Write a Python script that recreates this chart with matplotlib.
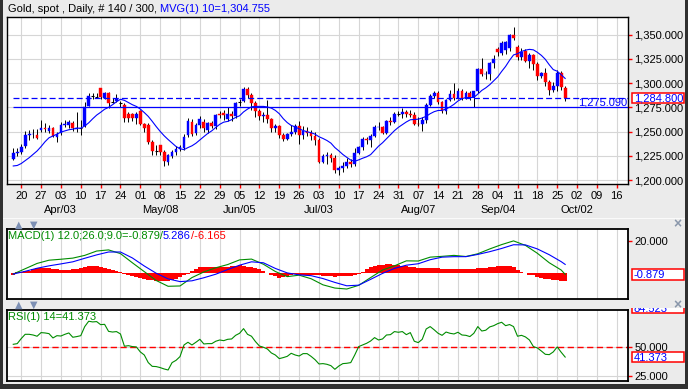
import numpy as np
import pandas as pd
import matplotlib
matplotlib.use("Agg")
import matplotlib.pyplot as plt
import matplotlib.transforms as mtransforms
from matplotlib.patches import Rectangle
from matplotlib.text import Annotation

plt.rcParams['font.family'] = ['Liberation Sans', 'DejaVu Sans']
plt.rcParams['font.size'] = 8
plt.rcParams['lines.scale_dashes'] = False

# ---- Gold spot, daily bars ----
first_day = '2017-03-16'

opens = [1221.5, 1227.5, 1229, 1235, 1246, 1247, 1246.5, 1252, 1254, 1251,
         1254, 1244.5, 1249, 1256.5, 1256.5, 1259, 1253, 1253.5, 1255.5, 1276.5,
         1287, 1286, 1294.5, 1284.5, 1289.5, 1281, 1282, 1279, 1277.5, 1268,
         1268, 1264.5, 1271.5, 1257.5, 1256.5, 1239.5, 1230, 1236, 1229, 1219,
         1225, 1229, 1232.5, 1233.5, 1246.5, 1260, 1249, 1256.5, 1260, 1251.5,
         1259, 1255.5, 1268.5, 1269.5, 1262.5, 1268, 1266, 1280.5, 1282, 1293.5,
         1287.5, 1279.5, 1271, 1266.5, 1267, 1263, 1254, 1256, 1246, 1242.5,
         1247, 1250, 1256, 1246, 1251, 1249, 1245, 1241, 1219, 1225,
         1226, 1223, 1210, 1212, 1214, 1219, 1217, 1228, 1234, 1242,
         1241, 1245, 1254.5, 1255, 1249, 1260.5, 1260, 1268.5, 1268.5, 1270,
         1268.5, 1267.5, 1258, 1257.5, 1262, 1277, 1287, 1289.5, 1281, 1271,
         1283, 1288.5, 1285, 1292, 1285, 1290, 1285.5, 1291.5, 1315, 1309,
         1309, 1321, 1335, 1331, 1334, 1336, 1349.5, 1337.5, 1327.5, 1333,
         1323, 1329, 1320, 1307, 1310, 1301, 1293, 1297, 1310, 1295]

highs = [1233.5, 1233, 1237, 1250.5, 1252, 1253, 1253, 1262, 1258.5, 1257,
         1255, 1250, 1260, 1262, 1262, 1261, 1270.5, 1262, 1281, 1289.5,
         1290, 1289.5, 1295.5, 1291, 1290.5, 1284.5, 1288.5, 1282, 1279, 1270,
         1269, 1270, 1272, 1259, 1258.5, 1241, 1236, 1236.5, 1231, 1227,
         1231, 1235, 1236, 1247, 1264, 1263, 1258.5, 1266, 1263, 1260,
         1261, 1268, 1271, 1272, 1275, 1271, 1281, 1284, 1296.5, 1296,
         1290, 1282, 1273, 1270, 1283, 1264, 1258, 1257, 1249, 1249,
         1257, 1258, 1261, 1256, 1255, 1252, 1250, 1243, 1227, 1229,
         1228, 1226, 1214, 1219, 1223, 1222, 1233, 1235, 1244, 1244,
         1247, 1257, 1260, 1256, 1262, 1265, 1270, 1271, 1274, 1272,
         1272, 1270, 1265, 1265, 1280, 1289, 1292, 1292, 1282, 1284,
         1293, 1300, 1295, 1294, 1292, 1292, 1292, 1316, 1326, 1313,
         1322, 1329, 1337, 1344, 1344, 1351, 1357.5, 1339, 1336, 1335,
         1331, 1330, 1322, 1312, 1316, 1303, 1301, 1313.5, 1313, 1297]

lows = [1221, 1225, 1227, 1233, 1241, 1243, 1242, 1250, 1250, 1249,
        1244.5, 1239.5, 1246.5, 1255, 1254, 1251, 1250, 1246.5, 1255, 1276,
        1283.5, 1284.5, 1283.5, 1284, 1274, 1279, 1280.5, 1275, 1260, 1259.5,
        1261, 1258, 1256.5, 1250, 1237.5, 1225.5, 1226, 1225.5, 1214.5, 1215,
        1223, 1226, 1230, 1231, 1244, 1245, 1246, 1254, 1250, 1249,
        1254, 1253, 1264, 1262, 1261, 1261, 1264, 1276, 1281, 1285,
        1272, 1265, 1262, 1260, 1259, 1250, 1250, 1243, 1240, 1241,
        1245, 1248, 1237, 1242, 1245, 1241, 1236, 1218, 1218, 1217,
        1219, 1207, 1205, 1208, 1212, 1213, 1214, 1227, 1231, 1237,
        1234, 1244, 1252, 1247, 1247, 1257, 1259, 1266, 1264, 1265,
        1265, 1257, 1256, 1251, 1259, 1276, 1285, 1278, 1269, 1268,
        1282, 1283, 1284, 1283, 1284, 1283, 1275.09, 1290, 1307, 1304,
        1303, 1316, 1328, 1329, 1330, 1333, 1344.5, 1324, 1324, 1322,
        1316, 1314, 1303, 1305, 1297, 1288, 1291, 1292, 1293, 1281.5]

closes = [1227.5, 1229, 1234.5, 1246.5, 1247, 1247.5, 1243, 1254, 1253, 1254,
          1245.5, 1248, 1256.5, 1258, 1259.5, 1253.5, 1253.5, 1253.5, 1275.5, 1287,
          1287, 1286, 1285.5, 1289.5, 1279, 1281, 1284, 1279, 1264.5, 1264.5,
          1264.5, 1268.5, 1258, 1253.5, 1239.5, 1230, 1230, 1229, 1219.5, 1225.5,
          1228.5, 1232.5, 1234.5, 1244.5, 1261, 1248, 1256.5, 1263.5, 1253.5, 1258.5,
          1255.5, 1267, 1267, 1267, 1268.5, 1266, 1279.5, 1280.5, 1293.5, 1287.5,
          1279.5, 1271, 1266.5, 1267.5, 1263, 1254, 1256, 1246, 1242.5, 1247,
          1250, 1256, 1246, 1251, 1249, 1245, 1241, 1219, 1225, 1226,
          1223, 1210, 1212, 1214, 1219, 1217, 1228, 1234, 1242, 1241,
          1245, 1254.5, 1255, 1249, 1260.5, 1260, 1268.5, 1268.5, 1270, 1268.5,
          1267.5, 1258, 1257.5, 1262, 1277, 1287, 1289.5, 1281, 1271, 1283,
          1288.5, 1285, 1292, 1285, 1290, 1286, 1291.5, 1315, 1309, 1309.5,
          1321, 1325, 1332.5, 1341.5, 1342, 1349.5, 1346.5, 1327.5, 1332.5, 1323,
          1329, 1320, 1307, 1310, 1301, 1293, 1297, 1311, 1296, 1284.8]

# MVG(10) on the first bars uses closes from before the window
ma_head = [1214.5, 1215, 1217, 1220, 1223, 1226.5, 1230, 1234.5, 1239.5]

# MACD(12,26,9): lines read every 3 bars, histogram read per bar
macd_bars = list(range(0, 139, 3)) + [139]
macd_line = [-0.7, 2.6, 5.9, 7.9, 8.5, 9.2, 10.9, 13.6, 14.3, 12.0,
             6.3, 0.8, -4.7, -8.3, -8.1, -2.9, 0.6, 3.2, 5.2, 8.1,
             8.6, 5.4, 0.9, -2.3, -1.4, -3.6, -7.4, -9.4, -10.0, -7.7,
             -2.9, 1.8, 4.4, 7.5, 7.4, 9.8, 10.3, 10.9, 10.2, 11.9,
             14.9, 17.6, 19.9, 17.1, 12.2, 6.3, 1.8, -0.879]
macd_signal = [-0.7, 1.0, 2.9, 4.4, 5.6, 6.9, 9.1, 11.2, 13.0, 13.0,
               9.3, 4.3, -0.2, -3.7, -5.4, -4.9, -3.0, -0.8, 2.1, 4.8,
               6.9, 6.3, 2.8, 0.0, -1.2, -1.7, -3.5, -5.9, -8.0, -7.6,
               -4.0, -0.3, 2.8, 4.8, 5.7, 8.2, 9.8, 10.1, 10.1, 11.5,
               13.2, 15.2, 17.5, 17.4, 14.9, 11.3, 7.0, 5.286]
macd_hist = [-1.0, 0.3, 0.6, 0.9, 1.5, 2.5, 3.0, 3.2, 3.0, 2.8,
             2.4, 2.2, 2.0, 2.0, 2.1, 2.2, 2.5, 3.0, 3.5, 4.2,
             4.6, 4.4, 3.6, 3.0, 2.5, 2.0, 1.2, 0.5, -0.8, -1.6,
             -2.2, -2.8, -3.2, -3.6, -4.2, -4.6, -5.0, -5.2, -5.1, -4.8,
             -4.3, -3.6, -2.8, -1.6, -0.5, 1.5, 2.6, 3.4, 3.8, 3.9,
             3.8, 3.7, 3.6, 3.7, 3.9, 4.1, 4.6, 4.9, 4.6, 3.9,
             3.4, 3.0, 2.2, 1.0, -0.2, -1.3, -2.2, -3.0, -2.8, -2.0,
             -1.2, -0.8, -1.0, -1.2, -1.5, -1.6, -1.5, -1.6, -1.8, -2.0,
             -2.2, -2.3, -2.2, -2.0, -1.9, -1.8, -1.4, -0.6, 0.6, 2.5,
             3.8, 4.6, 4.9, 5.1, 5.3, 5.3, 5.2, 5.0, 4.6, 4.2,
             3.9, 3.6, 3.3, 3.2, 3.2, 3.3, 3.1, 2.9, 2.6, 2.4,
             2.4, 2.5, 2.4, 2.3, 2.2, 2.4, 2.7, 3.0, 3.2, 3.3,
             3.5, 3.9, 4.2, 4.4, 4.4, 4.2, 3.6, 2.0, 0.8, -0.3,
             -1.0, -1.6, -2.3, -3.0, -3.6, -4.0, -4.3, -4.6, -5.0, -5.0]

# RSI(14) per bar
rsi_values = [52.6, 53.2, 57.6, 61.4, 61.4, 60.8, 59.7, 62.9, 62.6, 62.0,
              58.2, 60.2, 59.9, 61.4, 62.6, 58.8, 59.4, 60.2, 68.2, 72.9,
              72.3, 72.6, 69.9, 70.2, 64.0, 63.4, 63.8, 61.7, 50.9, 51.4,
              50.6, 50.3, 45.9, 43.2, 36.5, 33.2, 33.0, 32.1, 30.9, 30.0,
              36.5, 38.5, 41.8, 52.0, 54.4, 52.0, 54.4, 57.0, 52.9, 53.2,
              53.2, 55.3, 56.4, 55.8, 57.0, 57.3, 60.5, 62.3, 66.4, 61.4,
              59.7, 55.0, 51.1, 50.0, 48.5, 45.0, 43.2, 40.0, 40.9, 42.0,
              44.7, 43.2, 42.3, 44.4, 44.4, 42.0, 39.1, 35.3, 35.6, 35.0,
              33.8, 30.6, 33.5, 35.6, 35.9, 36.5, 43.2, 50.6, 52.0, 53.5,
              55.5, 58.5, 56.4, 57.3, 60.8, 61.1, 63.8, 63.2, 63.8, 61.1,
              62.9, 55.3, 54.1, 57.0, 66.1, 68.2, 65.4, 62.3, 60.5, 63.4,
              62.3, 61.7, 63.2, 60.8, 60.5, 59.4, 62.3, 68.2, 64.3, 65.0,
              67.9, 69.0, 70.8, 72.0, 69.0, 70.0, 68.2, 59.7, 60.5, 59.1,
              56.4, 50.6, 49.4, 46.7, 43.8, 43.5, 45.9, 50.3, 45.6, 41.373]

month_marks = ['2017-04-03', '2017-05-08', '2017-06-05', '2017-07-03',
               '2017-08-07', '2017-09-04', '2017-10-02']

support_level = 1275.09
last_price = 1284.8
ma_now = 1304.755
macd_now, signal_now, diff_now = -0.879, 5.286, -6.165
rsi_now, rsi_top = 41.373, 84.523

BLUE = '#0000ff'
RED = '#ff0000'
GREEN = '#008c00'
GRID = '#d6d6d6'
BG = '#ebebeb'

W, H = 688, 389
fig = plt.figure(figsize=(W / 100, H / 100), dpi=100, facecolor=BG)


def panel(top, bottom, left=7.3, right=628.3):
    return fig.add_axes([left / W, 1 - bottom / H, (right - left) / W, (bottom - top) / H])


ax = panel(17.3, 183.5)
ax_macd = panel(229.3, 299)
ax_rsi = panel(310, 381)

days = pd.bdate_range(first_day, periods=155)
x = np.arange(len(closes))
mondays = np.where(days.weekday == 0)[0]
x_right = 154.9

for a, lw in ((ax, 1.0), (ax_macd, 1.3), (ax_rsi, 1.3)):
    a.set_xlim(-1.5, x_right)
    a.set_facecolor('white')
    a.set_xticks(mondays)
    a.grid(axis='x', color=GRID, lw=0.8)
    a.set_axisbelow(True)
    a.yaxis.tick_right()
    a.tick_params(axis='y', direction='out', length=3, width=1, color=RED,
                  labelcolor='black', pad=1.5, labelsize=8)
    for s in a.spines.values():
        s.set_color('black')
        s.set_linewidth(lw)

# ---- price panel ----
o, h, l, c = map(np.array, (opens, highs, lows, closes))
ax.vlines(x, l, h, color='black', lw=0.7, zorder=3)
up, dn, flat = c > o, c < o, c == o
ax.bar(x[up], c[up] - o[up], bottom=o[up], width=0.7, color=BLUE,
       edgecolor=BLUE, lw=0.3, zorder=4)
ax.bar(x[dn], o[dn] - c[dn], bottom=c[dn], width=0.7, color=RED,
       edgecolor=RED, lw=0.3, zorder=4)
ax.hlines(c[flat], x[flat] - 0.4, x[flat] + 0.4, color='black', lw=0.8, zorder=4)

ma = pd.Series(c).rolling(10).mean().to_numpy()
ma[:len(ma_head)] = ma_head
ax.plot(x, ma, color=BLUE, lw=0.8, zorder=5)

ax.hlines(last_price, 0, x_right, colors=BLUE, lw=0.9,
          linestyles=(0, (4.3, 2.2)), zorder=6)
ax.hlines(support_level, 0, x_right, colors=BLUE, lw=0.9, zorder=6)
ax.annotate(f'{support_level:,.3f}', xy=(x_right, support_level), xytext=(-1, 1.6),
            textcoords='offset points', ha='right', va='baseline', color=BLUE)

ax.set_ylim(1196.4, 1368)
price_ticks = np.arange(1200, 1351, 25)
ax.set_yticks(price_ticks)
ax.set_yticklabels([f'{v:,.3f}' for v in price_ticks])
ax.grid(axis='y', color=GRID, lw=0.8)
ax.set_xticklabels(days[mondays].strftime('%d'))
ax.tick_params(axis='x', direction='out', length=3, width=1, color=RED, pad=2.5)
for m in month_marks:
    ts = pd.Timestamp(m)
    ax.annotate(ts.strftime('%b/%d'), xy=(days.get_loc(ts), 0),
                xycoords=('data', 'axes fraction'), xytext=(0, -19),
                textcoords='offset points', ha='center', va='center')

# ---- MACD panel ----
ax_macd.bar(x, macd_hist, width=1.0, color=RED, lw=0, zorder=2)
ax_macd.plot(macd_bars, macd_line, color=GREEN, lw=0.8, zorder=3)
ax_macd.plot(macd_bars, macd_signal, color=BLUE, lw=0.8, zorder=3)
ax_macd.set_ylim(-16.2, 27.1)
ax_macd.set_yticks([20])
ax_macd.set_yticklabels(['20.000'])
ax_macd.tick_params(axis='x', length=0, labelbottom=False)

# ---- RSI panel ----
ax_rsi.hlines(50, 0, x_right, colors=RED, lw=1.0, linestyles=(0, (4.5, 2.5)), zorder=2)
ax_rsi.plot(x, rsi_values, color=GREEN, lw=0.8, zorder=3)
ax_rsi.set_ylim(20.3, 82.8)
ax_rsi.set_yticks([25, 50])
ax_rsi.set_yticklabels(['25.000', '50.000'])
ax_rsi.grid(axis='y', color=GRID, lw=0.8)
ax_rsi.tick_params(axis='x', length=0, labelbottom=False)


def value_box(a, val):
    lo, hi = a.get_ylim()
    per_px = (hi - lo) / (a.get_position().height * H)
    tr = mtransforms.blended_transform_factory(fig.transFigure, a.transData)
    a.add_patch(Rectangle((631.7 / W, val - 5.3 * per_px), 52.5 / W, 10.6 * per_px,
                          transform=tr, fc='white', ec=RED, lw=1.1,
                          clip_on=False, zorder=7))
    a.text(634 / W, val, f'{val:,.3f}', transform=tr, color=BLUE,
           ha='left', va='center_baseline', zorder=8)


value_box(ax, last_price)
value_box(ax_macd, macd_now)
value_box(ax_rsi, rsi_now)
value_box(ax_rsi, rsi_top)

# the upper RSI box is cut by the separator strip
fig.add_artist(Rectangle((629 / W, 1 - 308 / H), 57 / W, 9 / H,
                         transform=fig.transFigure, fc=BG, ec='none', zorder=3))


def title_line(px, py, parts):
    prev = fig.text(px / W, 1 - py / H, parts[0][0], color=parts[0][1],
                    ha='left', va='center', zorder=5)
    for s, col in parts[1:]:
        prev = fig.add_artist(Annotation(s, xy=(1, 0), xycoords=prev, ha='left',
                                         va='bottom', color=col, zorder=5))


title_line(7.5, 9.5, [('Gold, spot , Daily, # 140 / 300, ', 'black'),
                      (f'MVG(1) 10={ma_now:,.3f}', BLUE)])
title_line(8, 236.5, [(f'MACD(1) 12.0;26.0;9.0={macd_now:.3f}/', GREEN),
                      (f'{signal_now:.3f}', BLUE),
                      (f'/{diff_now:.3f}', RED)])
title_line(8, 317, [(f'RSI(1) 14={rsi_now:.3f}', GREEN)])

# separator strips: light rule, arrow icons, close mark
fig.add_artist(Rectangle((3 / W, 1 - 219 / H), 682 / W, 1 / H,
                         transform=fig.transFigure, fc='#fafafa', ec='none', zorder=4))
for yy in (224.5, 305):
    fig.text(19 / W, 1 - yy / H, '▲', color='#7d90b4', fontsize=7,
             ha='center', va='center', family=['DejaVu Sans'], zorder=5)
    fig.text(34 / W, 1 - yy / H, '▼', color='#7d90b4', fontsize=7,
             ha='center', va='center', family=['DejaVu Sans'], zorder=5)
    fig.text(677 / W, 1 - yy / H, '×', color='#8a97ab', fontsize=10,
             fontweight='bold', ha='center', va='center', zorder=5)

for rx, ry, rw, rh in ((0, 0, 3, H), (685, 0, 3, H), (0, 383.5, W, 5.5)):
    fig.add_artist(Rectangle((rx / W, 1 - (ry + rh) / H), rw / W, rh / H,
                             transform=fig.transFigure, fc='#303030', ec='none', zorder=6))

fig.savefig('out.png', dpi=100, facecolor=fig.get_facecolor())
